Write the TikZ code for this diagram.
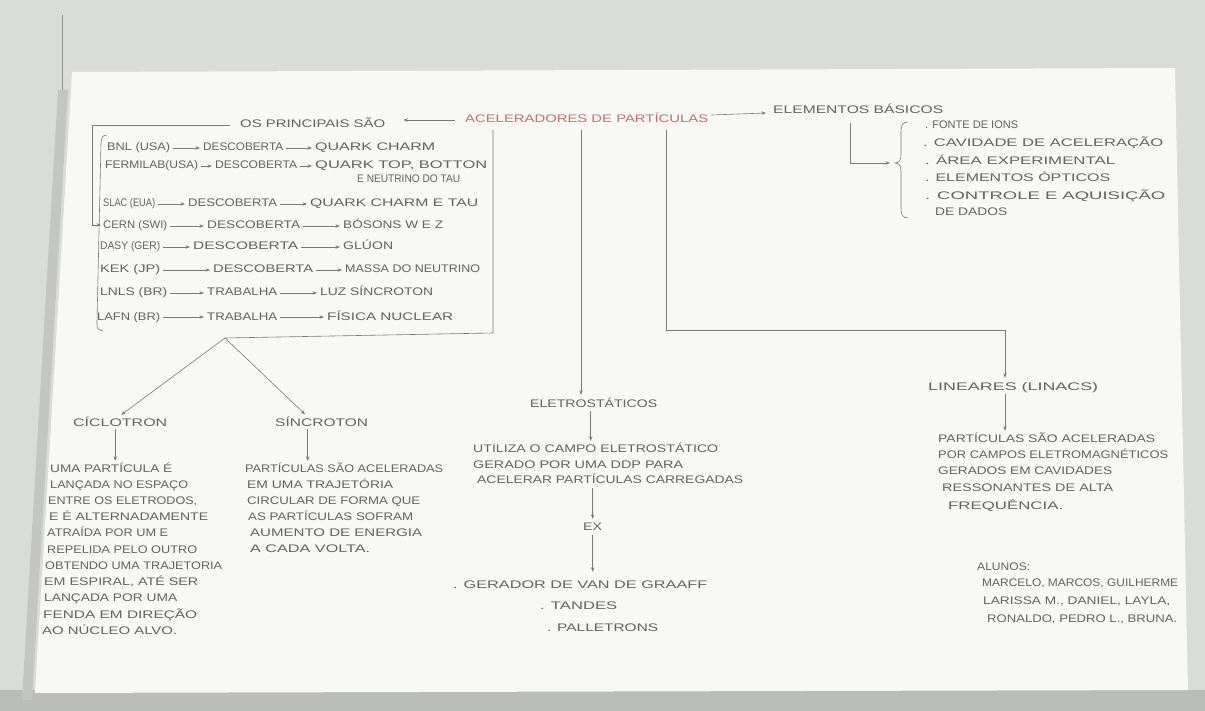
\documentclass[tikz,border=0pt]{standalone}
\usepackage{fontspec}
\setmainfont{Liberation Sans}
\usetikzlibrary{arrows.meta}
\definecolor{pencil}{HTML}{626262}
\definecolor{redpen}{HTML}{C0706C}
\definecolor{paper}{HTML}{F8F8F6}
\definecolor{wall}{HTML}{DADCD8}
\definecolor{floorc}{HTML}{BBBDB9}
\newsavebox\hwbox
\newcommand\hw[2]{\sbox\hwbox{#2}\pgfmathsetmacro\hwf{#1/\the\wd\hwbox}\scalebox{\hwf}[1]{\usebox\hwbox}}
\begin{document}
\begin{tikzpicture}[x=1pt,y=-1pt,
  txt/.style={anchor=base west, inner sep=0pt, text height=8pt, text depth=2pt, text=pencil, font=\fontsize{11}{13}\selectfont},
  ln/.style={draw=pencil!85, line width=0.6pt},
  arr/.style={ln, -{Stealth[length=4.5pt,width=3.4pt]}},
  rarr/.style={arr, shorten <=3pt, shorten >=3pt}
]
\useasboundingbox (0,0) rectangle (1205,711);
% background and paper
\fill[wall] (0,0) rectangle (1205,711);
\fill[floorc] (0,690) rectangle (1205,711);
\fill[floorc!70!wall] (58,90) -- (68,90) -- (32,700) -- (22,700) -- cycle;
\draw[pencil!70, line width=0.8pt] (62,15) -- (62,90);
\fill[paper] (72,72) -- (1175,68) -- (1188,690) -- (35,693) -- cycle;

% top row
\node[txt] (os) at (240,128) {\hw{145}{OS PRINCIPAIS SÃO}};
\node[txt,text=redpen] (acel) at (465,123) {\hw{243}{ACELERADORES DE PARTÍCULAS}};
\node[txt] (elem) at (773,114) {\hw{170}{ELEMENTOS BÁSICOS}};
\draw[arr] ([xshift=-10pt]acel.west) -- ([xshift=18pt]os.east |- acel.west);
\draw[arr] ([xshift=3pt,yshift=5pt]acel.east) -- ([xshift=-7pt,yshift=-2pt]elem.west);

% left frame and bracket
\coordinate (fTL) at (92,125);
\coordinate (fB) at (92,225);
\coordinate (brk) at (101,225);
\draw[ln] ([xshift=-10pt]os.west) -- (fTL) -- (fB);
\draw[arr] (fB) -- (brk);
\draw[ln] (107,135) .. controls (102,136) .. (101,143) -- (97,322) .. controls (97,329) .. (103,331);

% rows
\node[txt] (bnl) at (107,151) {\hw{63}{BNL (USA)}};
\node[txt] (bnlD) at (203,151) {\hw{80}{DESCOBERTA}};
\node[txt] (bnlR) at (315,151) {\hw{120}{QUARK CHARM}};
\draw[rarr] (bnl.east) -- (bnlD.west);
\draw[rarr] (bnlD.east) -- (bnlR.west);

\node[txt] (fer) at (105,169) {\hw{93}{FERMILAB(USA)}};
\node[txt] (ferD) at (215,169) {\hw{82}{DESCOBERTA}};
\node[txt] (ferR) at (315,169) {\hw{172}{QUARK TOP, BOTTON}};
\node[txt] (ferR2) at (357,183) {\hw{103}{E NEUTRINO DO TAU}};
\draw[rarr] (fer.east) -- (ferD.west);
\draw[rarr] (ferD.east) -- (ferR.west);

\node[txt] (slac) at (103,207) {\hw{52}{SLAC (EUA)}};
\node[txt] (slacD) at (188,207) {\hw{89}{DESCOBERTA}};
\node[txt] (slacR) at (310,207) {\hw{168}{QUARK CHARM E TAU}};
\draw[rarr] (slac.east) -- (slacD.west);
\draw[rarr] (slacD.east) -- (slacR.west);

\node[txt] (cern) at (103,229) {\hw{64}{CERN (SWI)}};
\node[txt] (cernD) at (207,229) {\hw{93}{DESCOBERTA}};
\node[txt] (cernR) at (343,229) {\hw{100}{BÓSONS W E Z}};
\draw[rarr] (cern.east) -- (cernD.west);
\draw[rarr] (cernD.east) -- (cernR.west);

\node[txt] (dasy) at (100,250) {\hw{60}{DASY (GER)}};
\node[txt] (dasyD) at (193,250) {\hw{105}{DESCOBERTA}};
\node[txt] (dasyR) at (343,250) {\hw{50}{GLÚON}};
\draw[rarr] (dasy.east) -- (dasyD.west);
\draw[rarr] (dasyD.east) -- (dasyR.west);

\node[txt] (kek) at (100,273) {\hw{60}{KEK (JP)}};
\node[txt] (kekD) at (213,273) {\hw{100}{DESCOBERTA}};
\node[txt] (kekR) at (345,273) {\hw{135}{MASSA DO NEUTRINO}};
\draw[rarr] (kek.east) -- (kekD.west);
\draw[rarr] (kekD.east) -- (kekR.west);

\node[txt] (lnls) at (100,296) {\hw{67}{LNLS (BR)}};
\node[txt] (lnlsD) at (207,296) {\hw{70}{TRABALHA}};
\node[txt] (lnlsR) at (320,296) {\hw{113}{LUZ SÍNCROTON}};
\draw[rarr] (lnls.east) -- (lnlsD.west);
\draw[rarr] (lnlsD.east) -- (lnlsR.west);

\node[txt] (lafn) at (97,320) {\hw{63}{LAFN (BR)}};
\node[txt] (lafnD) at (207,320) {\hw{70}{TRABALHA}};
\node[txt] (lafnR) at (327,320) {\hw{126}{FÍSICA NUCLEAR}};
\draw[rarr] (lafn.east) -- (lafnD.west);
\draw[rarr] (lafnD.east) -- (lafnR.west);

% elementos basicos
\coordinate (e1) at (850,123);
\coordinate (btip) at (890,163);
\draw[arr] (e1) |- (btip);
\draw[ln] (908,122) .. controls (902,122) and (901,126) .. (901,132) -- (901,155) .. controls (901,160) and (899,163) .. (895,163) .. controls (899,163) and (901,166) .. (901,171) -- (901,208) .. controls (901,214) and (902,218) .. (908,218);
\node[txt] (b1) at (925,129) {\hw{93}{. FONTE DE IONS}};
\node[txt] (b2) at (923,147) {\hw{240}{. CAVIDADE DE ACELERAÇÃO}};
\node[txt] (b3) at (925,165) {\hw{190}{. ÁREA EXPERIMENTAL}};
\node[txt] (b4) at (925,182) {\hw{185}{. ELEMENTOS ÓPTICOS}};
\node[txt] (b5) at (925,200) {\hw{240}{. CONTROLE E AQUISIÇÃO}};
\node[txt] (b6) at (935,216) {\hw{72}{DE DADOS}};

% ciclotron and sincroton
\coordinate (v1) at (493,130);
\coordinate (j1) at (493,333);
\coordinate (apex) at (225,338);
\draw[ln] (v1) -- (j1) -- (apex);
\node[txt] (ciclo) at (73,426) {\hw{94}{CÍCLOTRON}};
\node[txt] (sinc) at (275,426) {\hw{93}{SÍNCROTON}};
\draw[arr, shorten >=5pt] (apex) -- ([xshift=-3pt]ciclo.north);
\draw[arr, shorten >=5pt] (apex) -- ([xshift=-13pt]sinc.north);

\node[txt] (c1) at (50,472) {\hw{122}{UMA PARTÍCULA É}};
\node[txt] (c2) at (50,488) {\hw{138}{LANÇADA NO ESPAÇO}};
\node[txt] (c3) at (48,504) {\hw{149}{ENTRE OS ELETRODOS,}};
\node[txt] (c4) at (49,520) {\hw{159}{E É ALTERNADAMENTE}};
\node[txt] (c5) at (47,536) {\hw{121}{ATRAÍDA POR UM E}};
\node[txt] (c6) at (47,553) {\hw{150}{REPELIDA PELO OUTRO}};
\node[txt] (c7) at (45,569) {\hw{177}{OBTENDO UMA TRAJETORIA}};
\node[txt] (c8) at (44,585) {\hw{154}{EM ESPIRAL, ATÉ SER}};
\node[txt] (c9) at (44,601) {\hw{133}{LANÇADA POR UMA}};
\node[txt] (c10) at (43,618) {\hw{154}{FENDA EM DIREÇÃO}};
\node[txt] (c11) at (42,634) {\hw{135}{AO NÚCLEO ALVO.}};
\draw[arr, shorten <=1pt, shorten >=3pt] ([xshift=-5pt]ciclo.south) -- ([xshift=-5pt]ciclo.south |- c1.north);

\node[txt] (s1) at (245,472) {\hw{198}{PARTÍCULAS SÃO ACELERADAS}};
\node[txt] (s2) at (247,488) {\hw{146}{EM UMA TRAJETÓRIA}};
\node[txt] (s3) at (247,504) {\hw{173}{CIRCULAR DE FORMA QUE}};
\node[txt] (s4) at (248,520) {\hw{165}{AS PARTÍCULAS SOFRAM}};
\node[txt] (s5) at (250,536) {\hw{172}{AUMENTO DE ENERGIA}};
\node[txt] (s6) at (250,552) {\hw{120}{A CADA VOLTA.}};
\draw[arr, shorten <=1pt, shorten >=3pt] ([xshift=-14pt]sinc.south) -- ([xshift=-14pt]sinc.south |- s1.north);

% eletrostaticos
\coordinate (v2) at (581,130);
\node[txt] (eletro) at (530,407) {\hw{127}{ELETROSTÁTICOS}};
\draw[arr, shorten >=4pt] (v2) -- (v2 |- eletro.north);
\node[txt] (el1) at (473,452) {\hw{245}{UTILIZA O CAMPO ELETROSTÁTICO}};
\node[txt] (el2) at (473,468) {\hw{210}{GERADO POR UMA DDP PARA}};
\node[txt] (el3) at (477,483) {\hw{266}{ACELERAR PARTÍCULAS CARREGADAS}};
\draw[arr, shorten <=2pt, shorten >=3pt] ([xshift=-3pt]eletro.south) -- ([xshift=-3pt]eletro.south |- el1.north);
\node[txt] (ex) at (583,530) {\hw{19}{EX}};
\draw[arr, shorten <=3pt, shorten >=3pt] (ex.north |- el3.south) -- (ex.north);
\node[txt] (g1) at (453,588) {\hw{254}{. GERADOR DE VAN DE GRAAFF}};
\node[txt] (g2) at (540,609) {\hw{77}{. TANDES}};
\node[txt] (g3) at (547,631) {\hw{111}{. PALLETRONS}};
\draw[arr, shorten <=3pt, shorten >=8pt] (ex.south) -- (ex.south |- g1.north);

% lineares
\coordinate (v3) at (666,130);
\coordinate (j3) at (666,330);
\coordinate (k3) at (1005,330);
\node[txt] (lin) at (928,390) {\hw{170}{LINEARES (LINACS)}};
\draw[arr, shorten >=4pt] (v3) -- (j3) -- (k3) -- (k3 |- lin.north);
\node[txt] (l1) at (938,442) {\hw{217}{PARTÍCULAS SÃO ACELERADAS}};
\node[txt] (l2) at (938,458) {\hw{230}{POR CAMPOS ELETROMAGNÉTICOS}};
\node[txt] (l3) at (938,474) {\hw{174}{GERADOS EM CAVIDADES}};
\node[txt] (l4) at (942,491) {\hw{171}{RESSONANTES DE ALTA}};
\node[txt] (l5) at (948,509) {\hw{115}{FREQUÊNCIA.}};
\draw[arr, shorten <=2pt, shorten >=3pt] (k3 |- lin.south) -- (k3 |- l1.north);

% alunos
\node[txt] (alunos) at (977,570) {\hw{53}{ALUNOS:}};
\node[txt] (n1) at (982,586) {\hw{196}{MARCELO, MARCOS, GUILHERME}};
\node[txt] (n2) at (983,604) {\hw{187}{LARISSA M., DANIEL, LAYLA,}};
\node[txt] (n3) at (987,622) {\hw{190}{RONALDO, PEDRO L., BRUNA.}};
\end{tikzpicture}
\end{document}
